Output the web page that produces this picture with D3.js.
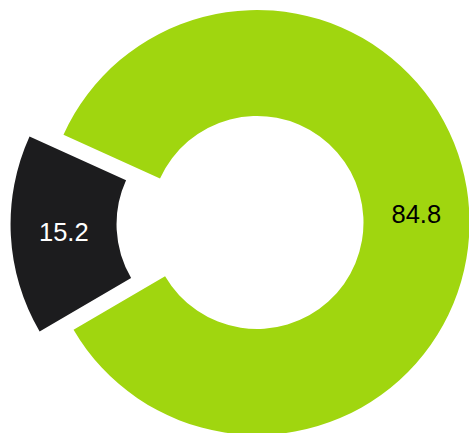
<!DOCTYPE html>
<html>
<head>
<meta charset="utf-8">
<script src="https://cdn.jsdelivr.net/npm/d3@7"></script>
<style>
  html, body { margin: 0; padding: 0; background: #fff; }
  svg { display: block; }
</style>
</head>
<body>
<svg id="chart" width="469" height="433"></svg>
<script>
const labels = ["A", "B"];
const values = [84.8, 15.2];
const colors = ["#a0d60f", "#1c1c1e"];
const textColors = ["#000000", "#ffffff"];
const pulls = [0, 0.16];

const width = 469, height = 433;
const cx = 257, cy = 222.5;
const outerR = 212.5, innerR = 106.5;
const startDeg = -65.6;

const svg = d3.select("#chart");
const g = svg.append("g").attr("transform", `translate(${cx},${cy})`);

const pie = d3.pie().sort(null).value(d => d)
  .startAngle(startDeg * Math.PI / 180)
  .endAngle(startDeg * Math.PI / 180 + 2 * Math.PI);
const arc = d3.arc().innerRadius(innerR).outerRadius(outerR);

const arcs = pie(values);
const slice = g.selectAll("g.slice").data(arcs).enter().append("g")
  .attr("class", "slice")
  .attr("transform", (d, i) => {
    const mid = (d.startAngle + d.endAngle) / 2;
    const off = pulls[i] * outerR;
    return `translate(${off * Math.sin(mid)},${-off * Math.cos(mid)})`;
  });

slice.append("path")
  .attr("d", arc)
  .attr("fill", (d, i) => colors[i]);

slice.append("text")
  .attr("transform", d => `translate(${arc.centroid(d)})`)
  .attr("text-anchor", "middle")
  .attr("dy", "0.35em")
  .attr("font-family", "'Liberation Sans', Arial, sans-serif")
  .attr("font-size", 25.5)
  .attr("fill", (d, i) => textColors[i])
  .text(d => d.data.toFixed(1));
</script>
</body>
</html>
